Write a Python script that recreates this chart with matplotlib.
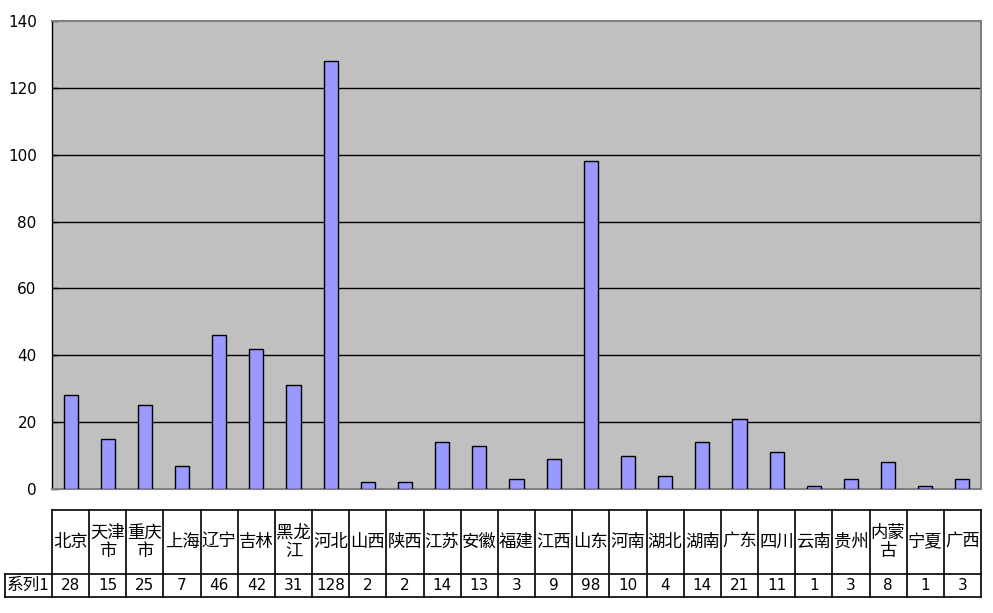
import matplotlib
matplotlib.use("Agg")
import matplotlib.pyplot as plt

plt.rcParams['font.family'] = ['Noto Sans CJK SC', 'DejaVu Sans']

categories = ["北京", "天津\n市", "重庆\n市", "上海", "辽宁", "吉林", "黑龙\n江", "河北",
              "山西", "陕西", "江苏", "安徽", "福建", "江西", "山东", "河南", "湖北", "湖南",
              "广东", "四川", "云南", "贵州", "内蒙\n古", "宁夏", "广西"]
values = [28, 15, 25, 7, 46, 42, 31, 128, 2, 2, 14, 13, 3, 9, 98, 10, 4, 14, 21, 11, 1, 3, 8, 1, 3]
series_name = "系列1"
yticks = [0, 20, 40, 60, 80, 100, 120, 140]

W, H = 993, 613
fig = plt.figure(figsize=(W / 100, H / 100), dpi=100)
fig.patch.set_facecolor("white")

L, R, T, B = 52, 981, 21, 489
ax = fig.add_axes([L / W, 1 - B / H, (R - L) / W, (B - T) / H])
ax.set_facecolor("#C0C0C0")
n = len(categories)
x = list(range(n))
ax.bar(x, values, width=0.38, color="#9999FF", edgecolor="black", linewidth=1, zorder=3)
ax.set_xlim(-0.5, n - 0.5)
ax.set_ylim(0, 140)
ax.set_yticks(yticks)
ax.set_yticklabels([str(v) for v in yticks], fontsize=11, family="DejaVu Sans")
ax.set_xticks([])
for v in yticks[1:-1]:
    ax.axhline(v, color="black", linewidth=1, zorder=2)
for s in ["top", "right", "bottom"]:
    ax.spines[s].set_color("#808080")
    ax.spines[s].set_linewidth(1.5)
ax.spines["left"].set_color("black")
ax.spines["left"].set_linewidth(1)
ax.tick_params(axis="y", direction="in", length=4, width=1, color="black", pad=11)

# data table
TL, TT, TM, TB = 5, 510, 574, 597
tax = fig.add_axes([TL / W, 1 - TB / H, (R - TL) / W, (TB - TT) / H])
colw = (R - L) / n
tax.set_xlim(-0.5 - (L - TL) / colw, n - 0.5)
tax.set_ylim(0, 1)
tax.axis("off")
ymid = (TB - TM) / (TB - TT)
x0 = -0.5 - (L - TL) / colw
lw = 1.2
tax.plot([-0.5, n - 0.5], [1, 1], color="black", lw=lw, clip_on=False)
tax.plot([x0, n - 0.5], [ymid, ymid], color="black", lw=lw, clip_on=False)
tax.plot([x0, n - 0.5], [0, 0], color="black", lw=lw, clip_on=False)
tax.plot([x0, x0], [0, ymid], color="black", lw=lw, clip_on=False)
for i in range(n + 1):
    tax.plot([i - 0.5, i - 0.5], [0, 1], color="black", lw=lw, clip_on=False)
for i, (c, v) in enumerate(zip(categories, values)):
    tax.text(i, (1 + ymid) / 2, c, ha="center", va="center", fontsize=12.5, linespacing=1.0)
    tax.text(i, ymid / 2, str(v), ha="center", va="center", fontsize=11, family="DejaVu Sans")
tax.text((x0 - 0.5) / 2, ymid / 2, series_name, ha="center", va="center", fontsize=12)

fig.savefig("out.png", dpi=100)
